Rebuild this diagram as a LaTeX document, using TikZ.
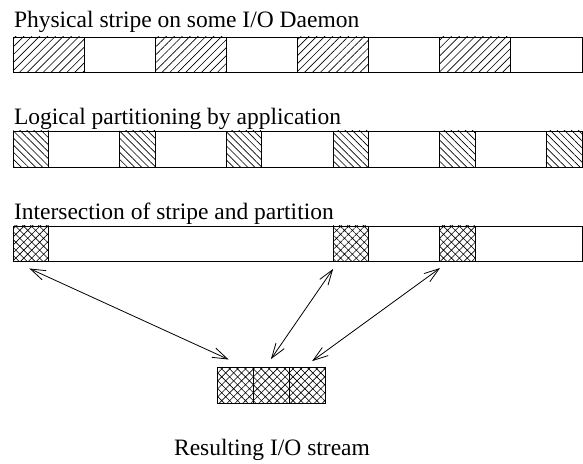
\documentclass[tikz,border=0pt]{standalone}
\usepackage{fontspec}
\setmainfont{Liberation Serif}
\usetikzlibrary{patterns.meta,arrows.meta,calc}

\begin{document}
\begin{tikzpicture}[x=1bp,y=-1bp]
    \tikzstyle{every node}+=[inner sep=0pt, outer sep=0pt]
    \tikzset{
        caption/.style={anchor=base west, font=\fontsize{23.5bp}{28bp}\selectfont},
        bar/.style={draw, line width=0.9bp, fill=white, minimum width=569bp, anchor=north west},
        stripecell/.style={draw, line width=0.9bp, anchor=north west, minimum width=71.125bp, minimum height=35bp,
            pattern={Lines[angle=45, distance=5.6bp, line width=0.65bp]}},
        partcell/.style={draw, line width=0.9bp, anchor=north west, minimum width=35.5625bp, minimum height=36bp,
            pattern={Lines[angle=-45, distance=5bp, line width=0.65bp]}},
        crosscell/.style={draw, line width=0.9bp, anchor=north west, minimum width=35.5625bp, minimum height=35bp,
            pattern={Hatch[angle=45, distance=5.6bp, line width=0.6bp]}},
        link/.style={line width=0.8bp, {Straight Barb[length=15bp, width=10bp]}-{Straight Barb[length=15bp, width=10bp]}}
    }
    \useasboundingbox (0,0) rectangle (583,464);

    % physical stripe
    \node[caption] (stripetext) at (14,27.5) {Physical stripe on some I/O Daemon};
    \node[bar, minimum height=35bp] (stripebar) at (13,37) {};
    \node[stripecell] (s1) at (13,37) {};
    \node[stripecell] (s2) at (155.25,37) {};
    \node[stripecell] (s3) at (297.5,37) {};
    \node[stripecell] (s4) at (439.75,37) {};

    % logical partitions
    \node[caption] (parttext) at (14,125) {Logical partitioning by application};
    \node[bar, minimum height=36bp] (partbar) at (13,131) {};
    \node[partcell] (p1) at (13,131) {};
    \node[partcell] (p2) at (119.69,131) {};
    \node[partcell] (p3) at (226.38,131) {};
    \node[partcell] (p4) at (333.06,131) {};
    \node[partcell] (p5) at (439.75,131) {};
    \node[partcell] (p6) at (546.44,131) {};

    % intersection
    \node[caption] (crosstext) at (14,220) {Intersection of stripe and partition};
    \node[bar, minimum height=35bp] (crossbar) at (13,226) {};
    \node[crosscell] (i1) at (13,226) {};
    \node[crosscell] (i2) at (333.06,226) {};
    \node[crosscell] (i3) at (439.75,226) {};

    % resulting stream
    \node[crosscell, minimum width=36bp, minimum height=36bp] (r1) at (217,367) {};
    \node[crosscell, minimum width=36bp, minimum height=36bp] (r2) at (253,367) {};
    \node[crosscell, minimum width=36bp, minimum height=36bp] (r3) at (289,367) {};
    \node[caption, anchor=base] (resulttext) at (272,455) {Resulting I/O stream};

    \draw[link, shorten <=18bp, shorten >=18bp] (i1.south west) -- ($(r1.north)+(10,0)$);
    \draw[link, shorten <=9.5bp, shorten >=9.5bp] ($(i2.south west)+(5.5,0)$) -- ($(r2.north)+(-5.5,0)$);
    \draw[link, shorten <=12bp, shorten >=10bp] ($(i3.south west)+(10,0)$) -- ($(r3.north)+(-3,0)$);
\end{tikzpicture}
\end{document}
